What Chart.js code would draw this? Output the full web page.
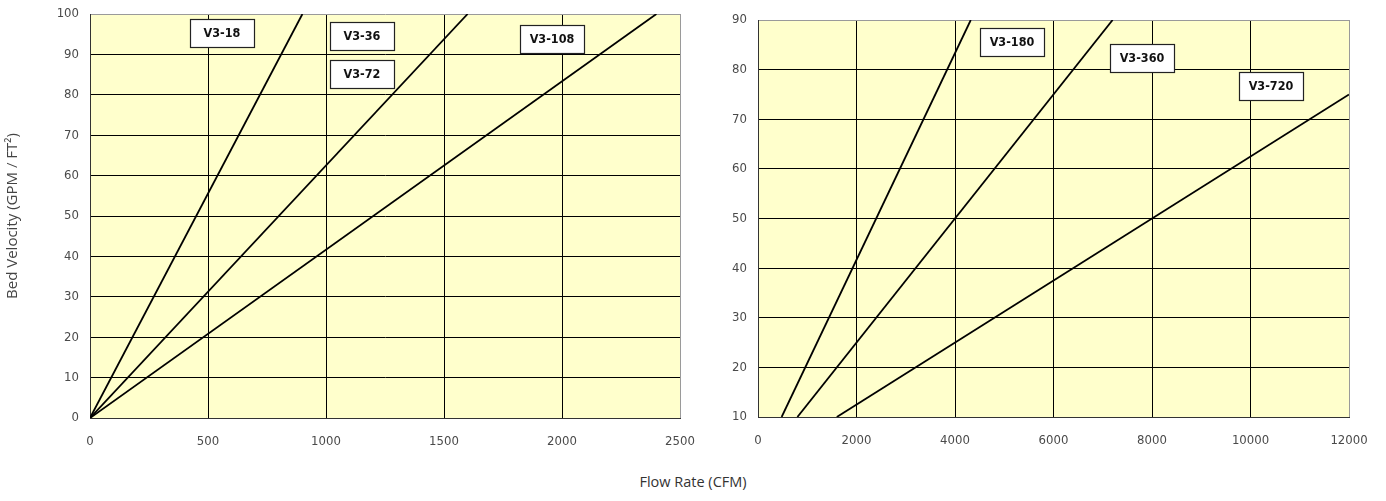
<!DOCTYPE html>
<html>
<head>
<meta charset="utf-8">
<script src="https://cdn.jsdelivr.net/npm/chart.js@4.4.1/dist/chart.umd.min.js"></script>
<style>
  body { margin: 0; background: #fff; width: 1386px; height: 501px; position: relative; overflow: hidden; }
  #leftBox { position: absolute; left: 0; top: 0; width: 700px; height: 460px; }
  #rightBox { position: absolute; left: 700px; top: 0; width: 686px; height: 460px; }
  #xTitle { position: absolute; left: 0; width: 1386px; top: 472px; text-align: center;
            font: 14.5px "Open Sans", sans-serif; color: #333; }
</style>
</head>
<body>
<div id="leftBox"><canvas id="leftChart"></canvas></div>
<div id="rightBox"><canvas id="rightChart"></canvas></div>
<div id="xTitle">Flow Rate (CFM)</div>
<script>
// small units (left) - each line is velocity vs flow rate
const leftNames = ['V3-18', 'V3-36 / V3-72', 'V3-108'];
const leftFlow = [[0, 900], [0, 1600], [0, 2400]];
const leftVelocity = [[0, 100], [0, 100], [0, 100]];

// large units (right)
const rightNames = ['V3-180', 'V3-360', 'V3-720'];
const rightFlow = [[480, 4320], [800, 7200], [1600, 12000]];
const rightVelocity = [[10, 90], [10, 90], [10, 75]];

// boxed model labels, placed in data units
const leftTags = ['V3-18', 'V3-36', 'V3-72', 'V3-108'];
const leftTagFlow = [559, 1153, 1153, 1958];
const leftTagVelocity = [95.3, 94.6, 85.1, 93.7];
const rightTags = ['V3-180', 'V3-360', 'V3-720'];
const rightTagFlow = [5157, 7797, 10416];
const rightTagVelocity = [85.5, 82.3, 76.7];

const tickFont = { family: '"DejaVu Sans Condensed", "Liberation Sans Narrow", sans-serif', size: 13 };
const tickColor = '#4a4a4a';

function buildSets(names, flows, vels) {
  return names.map((n, i) => ({
    label: n,
    data: flows[i].map((f, j) => ({ x: f, y: vels[i][j] })),
    showLine: true,
    borderColor: '#000',
    borderWidth: 1.8,
    pointRadius: 0,
    fill: false
  }));
}

const plotBg = {
  id: 'plotBg',
  beforeDraw(chart) {
    const a = chart.chartArea, ctx = chart.ctx;
    ctx.save();
    ctx.fillStyle = '#FFFFCC';
    ctx.fillRect(a.left, a.top, a.right - a.left, a.bottom - a.top);
    ctx.restore();
  }
};

const tagPlugin = {
  id: 'tags',
  afterDatasetsDraw(chart, args, opts) {
    const ctx = chart.ctx, xs = chart.scales.x, ys = chart.scales.y;
    ctx.save();
    opts.names.forEach((t, i) => {
      const cx = Math.round(xs.getPixelForValue(opts.flow[i]));
      const cy = Math.round(ys.getPixelForValue(opts.vel[i]));
      const w = 64, h = 28;
      ctx.fillStyle = '#fff';
      ctx.fillRect(cx - w / 2, cy - h / 2, w, h);
      ctx.strokeStyle = '#222';
      ctx.lineWidth = 1.2;
      ctx.strokeRect(cx - w / 2 + 0.5, cy - h / 2 + 0.5, w, h);
      ctx.fillStyle = '#111';
      ctx.font = 'bold 12.5px "DejaVu Sans Condensed", "Liberation Sans Narrow", sans-serif';
      ctx.textAlign = 'center';
      ctx.textBaseline = 'middle';
      ctx.fillText(t, cx, cy + 1);
    });
    ctx.restore();
  }
};

function makeChart(id, sets, xMin, xMax, xStep, yMin, yMax, yAxisWidth, pad, plotBottom, tags, showTitle) {
  const gridColor = (max) => (c) => (c.tick && c.tick.value === max) ? '#9a9a9a' : '#000';
  return new Chart(document.getElementById(id), {
    type: 'scatter',
    data: { datasets: sets },
    plugins: [plotBg, tagPlugin],
    options: {
      responsive: true,
      maintainAspectRatio: false,
      animation: false,
      layout: { padding: pad },
      plugins: { legend: { display: false }, tooltip: { enabled: false }, tags: tags },
      scales: {
        x: {
          type: 'linear', min: xMin, max: xMax,
          ticks: { stepSize: xStep, color: tickColor, font: tickFont, padding: 16, maxRotation: 0,
                   autoSkip: false, callback: (v) => String(v) },
          grid: { color: gridColor(xMax), lineWidth: 1, drawTicks: false },
          border: { color: '#333', width: 1 },
          afterFit(s) {
            s.height = s.chart.height - plotBottom - pad.bottom;
            s.paddingLeft = 0;
            s.paddingRight = 0;
          }
        },
        y: {
          min: yMin, max: yMax,
          ticks: { stepSize: 10, color: tickColor, font: tickFont, padding: 11, autoSkip: false,
                   callback: (v) => String(v) },
          grid: { color: gridColor(yMax), lineWidth: 1, drawTicks: false },
          border: { color: '#333', width: 1 },
          title: { display: showTitle, text: 'Bed Velocity (GPM / FT²)', color: '#444',
                   font: { family: '"Open Sans", sans-serif', size: 15 }, padding: { top: 4, bottom: 0 } },
          afterFit(s) {
            s.width = yAxisWidth;
            s.paddingTop = 0;
            s.paddingBottom = 0;
          }
        }
      }
    }
  });
}

makeChart('leftChart', buildSets(leftNames, leftFlow, leftVelocity), 0, 2500, 500, 0, 100, 90,
  { top: 14, right: 20, bottom: 0, left: 0 }, 418,
  { names: leftTags, flow: leftTagFlow, vel: leftTagVelocity }, true);

makeChart('rightChart', buildSets(rightNames, rightFlow, rightVelocity), 0, 12000, 2000, 10, 90, 58,
  { top: 20, right: 37, bottom: 0, left: 0 }, 417,
  { names: rightTags, flow: rightTagFlow, vel: rightTagVelocity }, false);
</script>
</body>
</html>
